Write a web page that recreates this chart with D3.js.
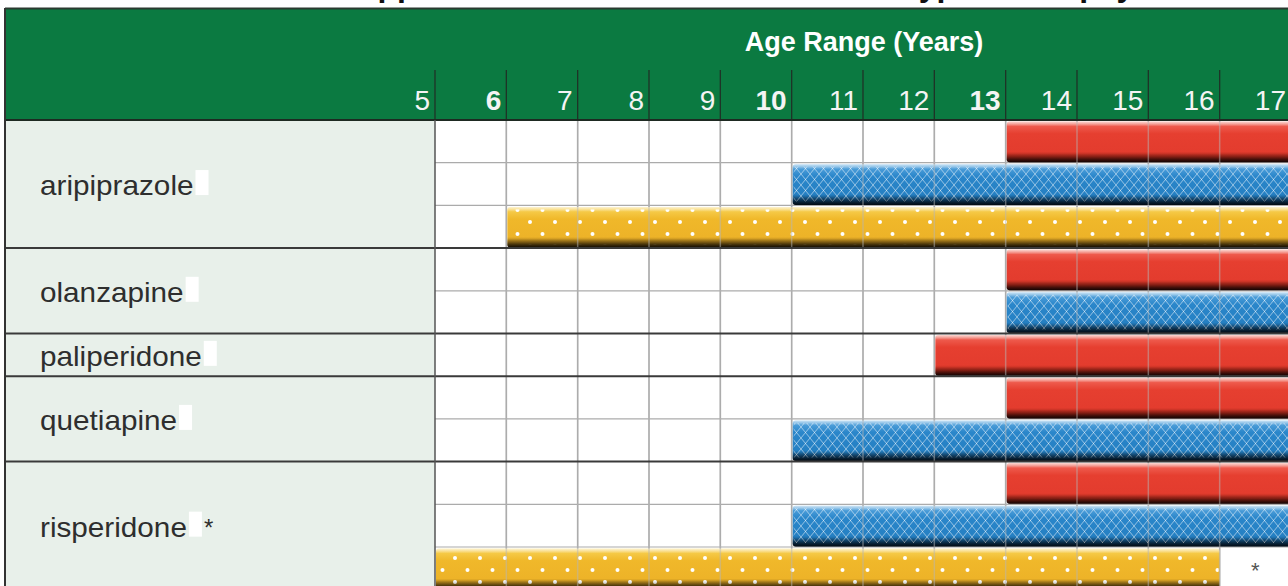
<!DOCTYPE html>
<html>
<head>
<meta charset="utf-8">
<script src="https://cdn.jsdelivr.net/npm/d3@7"></script>
<style>
  body { margin: 0; background: #fff; }
  svg { display: block; font-family: "Liberation Sans", Arial, sans-serif; }
</style>
</head>
<body>
<div id="chart"></div>
<script>
// header ticks
var ages = [5, 6, 7, 8, 9, 10, 11, 12, 13, 14, 15, 16, 17];
var boldAges = [6, 10, 13];

// drugs (row groups)
var drugs = ["aripiprazole", "olanzapine", "paliperidone", "quetiapine", "risperidone"];
var drugNotes = ["", "", "", "", "*"];

// one entry per sub-row
var rowDrug = [0, 0, 0, 1, 1, 2, 3, 3, 4, 4, 4];
var rowIndication = ["schizophrenia", "bipolar", "autism",
                     "schizophrenia", "bipolar",
                     "schizophrenia",
                     "schizophrenia", "bipolar",
                     "schizophrenia", "bipolar", "autism"];
var rowStart = [13, 10, 6, 13, 13, 12, 13, 10, 13, 10, 5];
var rowEnd   = [17, 17, 17, 17, 17, 17, 17, 17, 17, 17, 16];

// notes in single cells: [row, age column, text]
var cellNotes = [[10, 16, "*"]];

var W = 1288, H = 586;
var left = 435, top0 = 120, rowH = 42.7;

var svg = d3.select("#chart").append("svg").attr("width", W).attr("height", H);
var defs = svg.append("defs");

var x = d3.scaleLinear().domain([5, 17]).range([left, 1291]);
var y = d3.scaleBand().domain(d3.range(rowDrug.length))
    .range([top0, top0 + rowDrug.length * rowH]);
var bottom = top0 + rowDrug.length * rowH;

// bar shading
var shades = {
  schizophrenia: ["#f8c0b8", "#ee5a4c", "#e63f30", "#e33c2e", "#a52619", "#2c0906"],
  bipolar:       ["#b0d5f0", "#4a9cd8", "#2a86ca", "#2580c3", "#144e7b", "#05182b"],
  autism:        ["#fcecb8", "#f5c946", "#f0b82a", "#edb328", "#9c7218", "#281c07"]
};
var offs = [0, 0.12, 0.3, 0.74, 0.87, 1];
Object.keys(shades).forEach(function(k) {
  var g = defs.append("linearGradient").attr("id", "grad_" + k)
      .attr("x1", 0).attr("y1", 0).attr("x2", 0).attr("y2", 1);
  shades[k].forEach(function(c, i) {
    g.append("stop").attr("offset", offs[i]).attr("stop-color", c);
  });
});
// darken bottom over the texture
var sh = defs.append("linearGradient").attr("id", "shadow")
    .attr("x1", 0).attr("y1", 0).attr("x2", 0).attr("y2", 1);
sh.append("stop").attr("offset", 0).attr("stop-color", "#fff").attr("stop-opacity", 0.35);
sh.append("stop").attr("offset", 0.12).attr("stop-color", "#fff").attr("stop-opacity", 0);
sh.append("stop").attr("offset", 0.78).attr("stop-color", "#000").attr("stop-opacity", 0);
sh.append("stop").attr("offset", 1).attr("stop-color", "#000").attr("stop-opacity", 0.55);

// lattice for bipolar
var lat = defs.append("pattern").attr("id", "lattice").attr("patternUnits", "userSpaceOnUse")
    .attr("width", 9).attr("height", 11).attr("y", 163);
lat.append("path").attr("d", "M0,0 L9,11 M9,0 L0,11")
    .attr("stroke", "#fff").attr("stroke-opacity", 0.5).attr("stroke-width", 1).attr("fill", "none");
// dots for autism
var dots = defs.append("pattern").attr("id", "dots").attr("patternUnits", "userSpaceOnUse")
    .attr("width", 25).attr("height", 24).attr("x", 5).attr("y", 222);
[[0, 0], [25, 0], [0, 24], [25, 24], [12.5, 12]].forEach(function(p) {
  dots.append("circle").attr("cx", p[0]).attr("cy", p[1]).attr("r", 2).attr("fill", "#fff");
});
var texture = { schizophrenia: null, bipolar: "url(#lattice)", autism: "url(#dots)" };

// title (cropped off at the top, as in the source)
svg.append("text")
    .attr("x", 278).attr("y", -4)
    .attr("font-size", 32).attr("font-weight", "bold").attr("fill", "#111")
    .text("FDA-Approved Pediatric Indications for Atypical Antipsychotics");

// header
svg.append("rect").attr("x", 5).attr("y", 9).attr("width", W).attr("height", top0 - 9).attr("fill", "#0b7a41");
svg.append("line").attr("x1", 5).attr("x2", W).attr("y1", 8.5).attr("y2", 8.5)
    .attr("stroke", "#2a3a30").attr("stroke-width", 2);
svg.append("text").attr("x", 864).attr("y", 51).attr("text-anchor", "middle")
    .attr("font-size", 27).attr("font-weight", "bold").attr("fill", "#fff")
    .text("Age Range (Years)");

svg.append("g").selectAll("line").data(ages.slice(0, -1)).enter().append("line")
    .attr("x1", function(d) { return x(d); }).attr("x2", function(d) { return x(d); })
    .attr("y1", 70).attr("y2", top0)
    .attr("stroke", "#1f3327").attr("stroke-width", 1.3);

svg.append("g").selectAll("text").data(ages).enter().append("text")
    .attr("x", function(d) { return x(d) - 5; })
    .attr("y", 110)
    .attr("text-anchor", "end")
    .attr("font-size", 28)
    .attr("font-weight", function(d) { return boldAges.indexOf(d) >= 0 ? "bold" : "normal"; })
    .attr("fill", "#f4f4f4")
    .text(function(d) { return d; });

// body
svg.append("rect").attr("x", left).attr("y", top0).attr("width", W - left).attr("height", bottom - top0).attr("fill", "#fff");
svg.append("rect").attr("x", 5).attr("y", top0).attr("width", left - 5).attr("height", bottom - top0).attr("fill", "#e8f0ea");

var groupStarts = [], groupEnds = [];
rowDrug.forEach(function(d, i) {
  if (i == 0 || rowDrug[i - 1] != d) groupStarts.push(i);
  if (i == rowDrug.length - 1 || rowDrug[i + 1] != d) groupEnds.push(i);
});

// grid lines under bars
var innerCols = ages.slice(1, -1);
svg.append("g").selectAll("line").data(innerCols).enter().append("line")
    .attr("x1", function(d) { return x(d); }).attr("x2", function(d) { return x(d); })
    .attr("y1", top0).attr("y2", bottom)
    .attr("stroke", "#a3a3a3").attr("stroke-width", 1.5);

var subLines = d3.range(1, rowDrug.length).filter(function(i) { return rowDrug[i] == rowDrug[i - 1]; });
svg.append("g").selectAll("line").data(subLines).enter().append("line")
    .attr("x1", left).attr("x2", W)
    .attr("y1", function(i) { return y(i); }).attr("y2", function(i) { return y(i); })
    .attr("stroke", "#ababab").attr("stroke-width", 1.2);

// bars
var bars = svg.append("g").selectAll("g").data(d3.range(rowDrug.length)).enter().append("g");
bars.append("rect")
    .attr("x", function(i) { return x(rowStart[i]) + 1; })
    .attr("y", function(i) { return y(i) + 1.5; })
    .attr("width", function(i) { return x(rowEnd[i]) - x(rowStart[i]) - 1; })
    .attr("height", y.bandwidth() - 2)
    .attr("rx", 3)
    .attr("fill", function(i) { return "url(#grad_" + rowIndication[i] + ")"; });
bars.filter(function(i) { return texture[rowIndication[i]]; }).append("rect")
    .attr("x", function(i) { return x(rowStart[i]) + 2; })
    .attr("y", function(i) { return y(i) + 4; })
    .attr("width", function(i) { return x(rowEnd[i]) - x(rowStart[i]) - 3; })
    .attr("height", y.bandwidth() - 8)
    .attr("fill", function(i) { return texture[rowIndication[i]]; });
bars.append("rect")
    .attr("x", function(i) { return x(rowStart[i]) + 1; })
    .attr("y", function(i) { return y(i) + 1.5; })
    .attr("width", function(i) { return x(rowEnd[i]) - x(rowStart[i]) - 1; })
    .attr("height", y.bandwidth() - 2)
    .attr("rx", 3)
    .attr("fill", "url(#shadow)");

// grid lines showing through the bars
svg.append("g").selectAll("line").data(innerCols).enter().append("line")
    .attr("x1", function(d) { return x(d); }).attr("x2", function(d) { return x(d); })
    .attr("y1", top0).attr("y2", bottom)
    .attr("stroke", "#b5b5b5").attr("stroke-opacity", 0.5).attr("stroke-width", 1.5);

// cell notes
svg.append("g").selectAll("text").data(cellNotes).enter().append("text")
    .attr("x", function(d) { return (x(d[1]) + x(d[1] + 1)) / 2; })
    .attr("y", function(d) { return y(d[0]) + y.bandwidth() / 2 + 10; })
    .attr("text-anchor", "middle").attr("font-size", 22).attr("fill", "#555")
    .text(function(d) { return d[2]; });

// borders
svg.append("g").selectAll("line").data(groupStarts.slice(1)).enter().append("line")
    .attr("x1", 5).attr("x2", W)
    .attr("y1", function(i) { return y(i); }).attr("y2", function(i) { return y(i); })
    .attr("stroke", "#3a3a3a").attr("stroke-width", 2);
svg.append("line").attr("x1", 5).attr("x2", W).attr("y1", top0).attr("y2", top0)
    .attr("stroke", "#1e2a22").attr("stroke-width", 2);
svg.append("line").attr("x1", left).attr("x2", left).attr("y1", top0).attr("y2", bottom)
    .attr("stroke", "#555").attr("stroke-width", 1.5);
svg.append("line").attr("x1", 5).attr("x2", 5).attr("y1", 8).attr("y2", bottom)
    .attr("stroke", "#333").attr("stroke-width", 2);

// drug labels
var labels = svg.append("g").selectAll("g").data(drugs).enter().append("g")
    .attr("transform", function(d, k) {
      var c = (y(groupStarts[k]) + y(groupEnds[k]) + y.bandwidth()) / 2;
      return "translate(40," + (c + 11) + ")";
    });
labels.append("text")
    .attr("transform", "scale(1.1,1)")
    .attr("font-size", 27).attr("fill", "#2e2e2e")
    .text(function(d) { return d; });
labels.each(function(d, k) {
  var g = d3.select(this);
  var len = g.select("text").node().getComputedTextLength() * 1.1;
  g.append("rect").attr("x", len + 2).attr("y", -25).attr("width", 13).attr("height", 25).attr("fill", "#fff");
  if (drugNotes[k]) {
    g.append("text").attr("x", len + 17).attr("y", -1)
        .attr("font-size", 24).attr("fill", "#2e2e2e").text(drugNotes[k]);
  }
});
</script>
</body>
</html>
